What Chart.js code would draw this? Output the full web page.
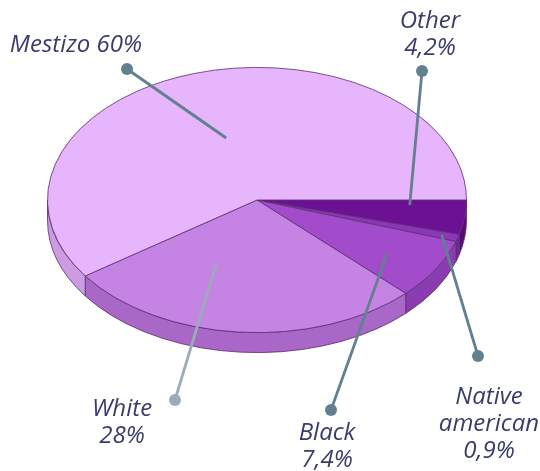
<!DOCTYPE html>
<html>
<head>
<meta charset="utf-8">
<script src="https://cdn.jsdelivr.net/npm/chart.js@4.4.0/dist/chart.umd.min.js"></script>
<style>
  html, body { margin: 0; padding: 0; background: #fff; }
  #wrap { width: 540px; height: 471px; }
</style>
</head>
<body>
<div id="wrap"><canvas id="graficoEtnias"></canvas></div>
<script>
// slices run clockwise from 3 o'clock
const categorias = ['Other', 'Native american', 'Black', 'White', 'Mestizo'];
const valores = [4.2, 0.9, 7.4, 28, 60];
const rotulos = [['Other', '4,2%'], ['Native', 'american', '0,9%'], ['Black', '7,4%'], ['White', '28%'], ['Mestizo 60%']];
const cores = ['#6c1193', '#8c35b8', '#a24ccc', '#c583e4', '#e6b5fb'];
const coresLado = ['#560c77', '#702a94', '#8a3cb0', '#a967c8', '#cc9be2'];

// label placement: text centre, dot, and where the line lands inside the slice (fraction along slice, fraction of radius)
const posTexto = [[430, 21], [489, 397], [327, 433], [122, 409], [76, 45]];
const posPonto = [[422, 71], [478, 356], [331, 410], [175, 400], [127, 69]];
const ancora = [[0.2, 0.73], [0.5, 0.92], [0.55, 0.74], [0.67, 0.52], [0.5, 0.49]];
const corLinha = ['#62808f', '#62808f', '#62808f', '#9aacb8', '#62808f'];

const inclinacao = 0.633;   // vertical squash of the disc
const profundidade = 20;    // thickness of the disc in px
const centroY = 200;

function transformar(ctx, arc) {
  ctx.translate(arc.x, centroY);
  ctx.scale(1, inclinacao);
  ctx.translate(-arc.x, -arc.y);
}

const pizza3d = {
  id: 'pizza3d',
  beforeDatasetsDraw(chart) {
    const ctx = chart.ctx;
    const arcs = chart.getDatasetMeta(0).data;
    ctx.save();
    transformar(ctx, arcs[0]);
    const D = profundidade / inclinacao;
    arcs.forEach((arc, i) => {
      const a1 = Math.max(arc.startAngle, 0);
      const a2 = Math.min(arc.endAngle, Math.PI);
      if (a2 <= a1) return;
      const R = arc.outerRadius;
      ctx.beginPath();
      ctx.arc(arc.x, arc.y, R, a1, a2);
      ctx.lineTo(arc.x + R * Math.cos(a2), arc.y + R * Math.sin(a2) + D);
      ctx.arc(arc.x, arc.y + D, R, a2, a1, true);
      ctx.closePath();
      ctx.fillStyle = coresLado[i];
      ctx.fill();
      ctx.strokeStyle = '#5b2f72';
      ctx.lineWidth = 1;
      ctx.stroke();
    });
  },
  afterDatasetsDraw(chart) {
    const ctx = chart.ctx;
    ctx.restore();
    const arcs = chart.getDatasetMeta(0).data;
    arcs.forEach((arc, i) => {
      const ang = arc.startAngle + (arc.endAngle - arc.startAngle) * ancora[i][0];
      const r = arc.outerRadius * ancora[i][1];
      const ax = arc.x + r * Math.cos(ang);
      const ay = centroY + r * Math.sin(ang) * inclinacao;
      const [px, py] = posPonto[i];
      ctx.strokeStyle = corLinha[i];
      ctx.lineWidth = 2.8;
      ctx.beginPath();
      ctx.moveTo(ax, ay);
      ctx.lineTo(px, py);
      ctx.stroke();
      ctx.fillStyle = corLinha[i];
      ctx.beginPath();
      ctx.arc(px, py, 6, 0, Math.PI * 2);
      ctx.fill();

      ctx.fillStyle = '#3a3d6b';
      ctx.font = 'italic 24px "Open Sans"';
      ctx.textAlign = 'center';
      ctx.textBaseline = 'middle';
      rotulos[i].forEach((linha, k) => {
        ctx.fillText(linha, posTexto[i][0], posTexto[i][1] + k * 27);
      });
    });
  }
};

new Chart(document.getElementById('graficoEtnias'), {
  type: 'pie',
  data: {
    labels: categorias,
    datasets: [{
      data: valores,
      backgroundColor: cores,
      borderColor: '#5b2f72',
      borderWidth: 1
    }]
  },
  options: {
    responsive: true,
    maintainAspectRatio: false,
    animation: false,
    rotation: 90,
    layout: { padding: { left: 47, right: 73, top: 20, bottom: 31 } },
    plugins: {
      legend: { display: false },
      tooltip: { enabled: false }
    }
  },
  plugins: [pizza3d]
});
</script>
</body>
</html>
